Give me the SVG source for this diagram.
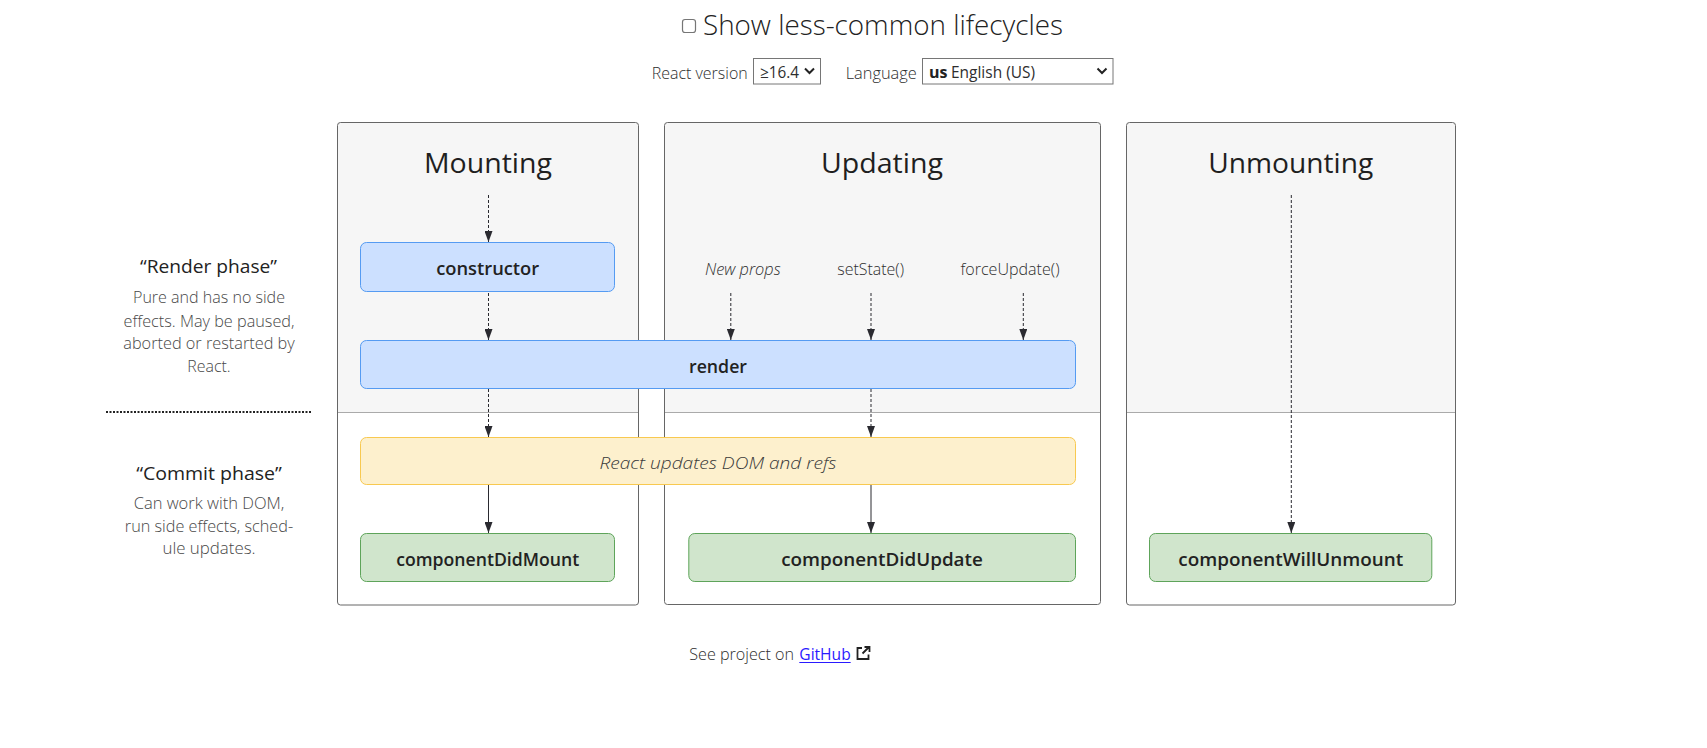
<svg xmlns="http://www.w3.org/2000/svg" width="1707" height="748" viewBox="0 0 1707 748">
<style>
text{font-family:"Open Sans","Noto Sans","Liberation Sans",sans-serif;fill:#222}
.title{font-size:28px;text-anchor:middle;fill:#1f1f1f}
.node{font-size:18px;font-weight:600;text-anchor:middle;fill:#222}
.lbl{font-size:16px;text-anchor:middle;fill:#2e2e2e;font-weight:300}
.phase{font-size:18px;text-anchor:middle;fill:#222}
.desc{font-size:16px;text-anchor:middle;fill:#484848;font-weight:300}
.ui{font-size:16px;fill:#2e2e2e;font-weight:300}
.col{fill:none;stroke:#666;stroke-width:1}
.top{fill:#f6f6f6}
.sep{stroke:#aaa;stroke-width:1}
.blue{fill:#cce0ff;stroke:#559bf2;stroke-width:1}
.yellow{fill:#fdf0cd;stroke:#f8c950;stroke-width:1}
.green{fill:#d0e5cc;stroke:#5ea45a;stroke-width:1}
.dash{stroke:#2a2a30;stroke-width:1;stroke-dasharray:3 2;fill:none}
.solid{stroke:#2a2a30;stroke-width:1;fill:none}
</style>
<defs>
<marker id="ah" markerUnits="userSpaceOnUse" markerWidth="11" markerHeight="8" refX="11" refY="4" orient="auto" viewBox="0 0 11 8">
<path d="M0,0 L11,4 L0,8 z" fill="#2a2a30"/>
</marker>
</defs>
<rect width="1707" height="748" fill="#fff"/>

<g id="header">
<rect x="682.5" y="19.5" width="13" height="13" rx="2.5" fill="#fff" stroke="#767676" stroke-width="1.2"/>
<text x="703" y="35" style="font-size:28px;fill:#222;font-weight:300" textLength="360" lengthAdjust="spacingAndGlyphs">Show less-common lifecycles</text>
<text class="ui" x="651.7" y="79" textLength="96" lengthAdjust="spacingAndGlyphs">React version</text>
<rect x="753.5" y="58.5" width="67" height="25.5" fill="#fff" stroke="#767676"/>
<text class="ui" x="760" y="78" style="font-weight:400" textLength="39" lengthAdjust="spacingAndGlyphs">≥16.4</text>
<polyline points="805,68.5 809.5,73 814,68.5" fill="none" stroke="#222" stroke-width="2"/>
<text class="ui" x="845.7" y="79" textLength="71" lengthAdjust="spacingAndGlyphs">Language</text>
<rect x="922.5" y="58.5" width="190.5" height="25.5" fill="#fff" stroke="#767676"/>
<text class="ui" x="929" y="78" style="font-weight:700;fill:#222">us</text>
<text class="ui" x="951" y="78" style="font-weight:400" textLength="84" lengthAdjust="spacingAndGlyphs">English (US)</text>
<polyline points="1097.5,68.5 1102,73 1106.5,68.5" fill="none" stroke="#222" stroke-width="2"/>
</g>

<g id="phases">
<text class="phase" x="208.5" y="273.3" textLength="137" lengthAdjust="spacingAndGlyphs">“Render phase”</text>
<text class="desc" x="209" y="303.3" textLength="152" lengthAdjust="spacingAndGlyphs">Pure and has no side</text>
<text class="desc" x="209" y="326.7" textLength="171" lengthAdjust="spacingAndGlyphs">effects. May be paused,</text>
<text class="desc" x="209" y="349.3" textLength="171.5" lengthAdjust="spacingAndGlyphs">aborted or restarted by</text>
<text class="desc" x="209" y="372" textLength="43.3" lengthAdjust="spacingAndGlyphs">React.</text>
<line x1="106" y1="412" x2="312" y2="412" stroke="#222" stroke-width="2" stroke-dasharray="2 1.5"/>
<text class="phase" x="209" y="480" textLength="145.7" lengthAdjust="spacingAndGlyphs">“Commit phase”</text>
<text class="desc" x="209" y="509.3" textLength="150.7" lengthAdjust="spacingAndGlyphs">Can work with DOM,</text>
<text class="desc" x="209" y="532.3" textLength="168.3" lengthAdjust="spacingAndGlyphs">run side effects, sched-</text>
<text class="desc" x="209" y="554" textLength="93" lengthAdjust="spacingAndGlyphs">ule updates.</text>
</g>

<g id="mounting">
<path class="top" d="M337.5,412 V125.5 a3,3 0 0 1 3,-3 H635.5 a3,3 0 0 1 3,3 V412 z"/>
<line class="sep" x1="337.5" y1="412.5" x2="638.5" y2="412.5"/>
<rect class="col" x="337.5" y="122.5" width="301" height="482.5" rx="3"/>
<text class="title" x="488" y="173" textLength="128" lengthAdjust="spacingAndGlyphs">Mounting</text>
</g>

<g id="updating">
<path class="top" d="M664.5,412 V125.5 a3,3 0 0 1 3,-3 H1097.5 a3,3 0 0 1 3,3 V412 z"/>
<line class="sep" x1="664.5" y1="412.5" x2="1100.5" y2="412.5"/>
<rect class="col" x="664.5" y="122.5" width="436" height="482" rx="3"/>
<text class="title" x="882" y="173" textLength="122" lengthAdjust="spacingAndGlyphs">Updating</text>
<text class="lbl" x="742.8" y="275" style="font-style:italic" textLength="75.7" lengthAdjust="spacingAndGlyphs">New props</text>
<text class="lbl" x="870.7" y="275" textLength="66.7" lengthAdjust="spacingAndGlyphs">setState()</text>
<text class="lbl" x="1010" y="275" textLength="99" lengthAdjust="spacingAndGlyphs">forceUpdate()</text>
</g>

<g id="unmounting">
<path class="top" d="M1126.5,412 V125.5 a3,3 0 0 1 3,-3 H1452.5 a3,3 0 0 1 3,3 V412 z"/>
<line class="sep" x1="1126.5" y1="412.5" x2="1455.5" y2="412.5"/>
<rect class="col" x="1126.5" y="122.5" width="329" height="482.5" rx="3"/>
<text class="title" x="1290.7" y="173" textLength="165" lengthAdjust="spacingAndGlyphs">Unmounting</text>
</g>

<g id="connectors">
<line class="dash" x1="488.5" y1="195" x2="488.5" y2="242" marker-end="url(#ah)"/>
<line class="dash" x1="488.5" y1="293" x2="488.5" y2="340" marker-end="url(#ah)"/>
<line class="dash" x1="488.5" y1="389" x2="488.5" y2="437" marker-end="url(#ah)"/>
<line class="solid" x1="488.5" y1="485" x2="488.5" y2="533" marker-end="url(#ah)"/>
<line class="dash" x1="730.8" y1="293" x2="730.8" y2="340" marker-end="url(#ah)"/>
<line class="dash" x1="871" y1="293" x2="871" y2="340" marker-end="url(#ah)"/>
<line class="dash" x1="1023.3" y1="293" x2="1023.3" y2="340" marker-end="url(#ah)"/>
<line class="dash" x1="871" y1="389" x2="871" y2="437" marker-end="url(#ah)"/>
<line class="solid" x1="871" y1="485" x2="871" y2="533" marker-end="url(#ah)"/>
<line class="dash" x1="1291.3" y1="195" x2="1291.3" y2="533" marker-end="url(#ah)"/>
</g>

<g id="constructor">
<rect class="blue" x="360.5" y="242.5" width="254" height="49" rx="6"/>
<text class="node" x="487.7" y="275" textLength="103" lengthAdjust="spacingAndGlyphs">constructor</text>
</g>
<g id="render">
<rect class="blue" x="360.5" y="340.5" width="715" height="48" rx="6"/>
<text class="node" x="718" y="372.7" textLength="58" lengthAdjust="spacingAndGlyphs">render</text>
</g>
<g id="dom-update">
<rect class="yellow" x="360.5" y="437.5" width="715" height="47" rx="6"/>
<text class="lbl" x="718" y="469.3" style="font-size:17px;font-style:italic;fill:#3a3a3a" textLength="237" lengthAdjust="spacingAndGlyphs">React updates DOM and refs</text>
</g>
<g id="componentDidMount">
<rect class="green" x="360.5" y="533.5" width="254" height="48" rx="6"/>
<text class="node" x="487.7" y="565.5" textLength="183" lengthAdjust="spacingAndGlyphs">componentDidMount</text>
</g>
<g id="componentDidUpdate">
<rect class="green" x="688.8" y="533.5" width="386.7" height="48" rx="6"/>
<text class="node" x="882" y="565.5" textLength="201.7" lengthAdjust="spacingAndGlyphs">componentDidUpdate</text>
</g>
<g id="componentWillUnmount">
<rect class="green" x="1149.5" y="533.5" width="282.3" height="48" rx="6"/>
<text class="node" x="1290.8" y="565.5" textLength="225" lengthAdjust="spacingAndGlyphs">componentWillUnmount</text>
</g>

<g id="footer">
<text class="ui" x="689.3" y="660" textLength="104.7" lengthAdjust="spacingAndGlyphs">See project on</text>
<text class="ui" x="799.3" y="660" style="fill:#2a1aff;font-weight:400" textLength="51.4" lengthAdjust="spacingAndGlyphs">GitHub</text>
<line x1="799.3" y1="662.5" x2="850.7" y2="662.5" stroke="#2a1aff" stroke-width="1"/>
<path d="M862,648 H857.5 V659 H868.5 V654.5" fill="none" stroke="#222" stroke-width="1.8"/>
<path d="M862.5,653.5 L869,647 M864.5,647 H869.5 V652" fill="none" stroke="#222" stroke-width="1.8"/>
</g>
</svg>
